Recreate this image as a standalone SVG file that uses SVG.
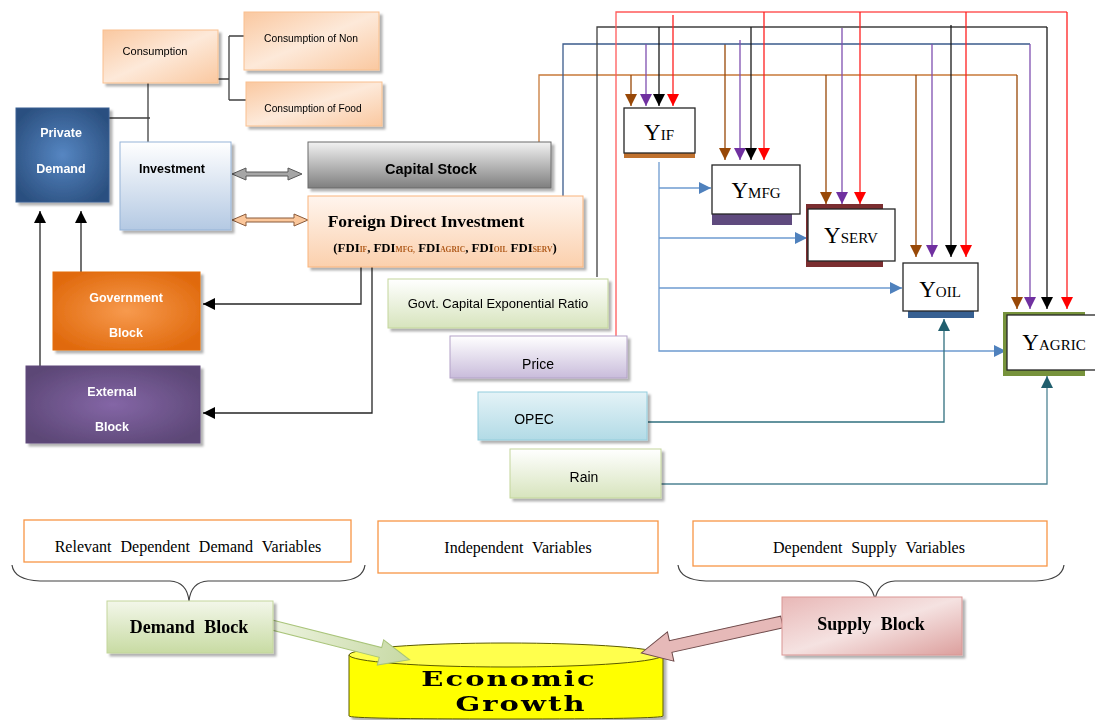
<svg xmlns="http://www.w3.org/2000/svg" width="1095" height="720" viewBox="0 0 1095 720">
<defs>
<style>
.sans{font-family:"Liberation Sans",Arial,sans-serif}
.serif{font-family:"Liberation Serif","Times New Roman",serif}
.wb{fill:#fff;font-weight:bold;font-size:12.5px}
.ln{fill:none;stroke-width:1.3}
.ybox{fill:#fff;stroke:#262626;stroke-width:1.3}
.ylab{font-family:"Liberation Serif","Times New Roman",serif;font-size:23px;fill:#000}
.lbl{font-family:"Liberation Serif","Times New Roman",serif;font-size:16px;fill:#000;text-anchor:middle;word-spacing:5px}
.obox{fill:#fff;stroke:#f79646;stroke-width:1.3}
.brace{fill:none;stroke:#404040;stroke-width:1.2}
.eg{font-family:"DejaVu Serif","Liberation Serif",serif;font-size:21px;font-weight:bold;fill:#000;text-anchor:middle;letter-spacing:1.5px}
</style>
<filter id="sh" x="-10%" y="-10%" width="125%" height="130%"><feDropShadow dx="3" dy="3" stdDeviation="1" flood-color="#000" flood-opacity="0.3"/></filter>
<linearGradient id="gPeach" x1="0" y1="0" x2="1" y2="1"><stop offset="0" stop-color="#fac8a0"/><stop offset="0.5" stop-color="#fde9d9"/><stop offset="1" stop-color="#fac8a0"/></linearGradient>
<radialGradient id="gPD" cx="0.5" cy="0.5" r="0.6"><stop offset="0" stop-color="#5686c2"/><stop offset="1" stop-color="#2b5080"/></radialGradient>
<linearGradient id="gInv" x1="0" y1="0" x2="0" y2="1"><stop offset="0" stop-color="#ffffff"/><stop offset="1" stop-color="#b4c9e3"/></linearGradient>
<linearGradient id="gCap" x1="0" y1="0" x2="0" y2="1"><stop offset="0" stop-color="#f2f2f2"/><stop offset="1" stop-color="#7f7f7f"/></linearGradient>
<linearGradient id="gFDI" x1="0" y1="0" x2="0" y2="1"><stop offset="0" stop-color="#fff5ee"/><stop offset="1" stop-color="#fbd0ad"/></linearGradient>
<radialGradient id="gGov" cx="0.5" cy="0.5" r="0.6"><stop offset="0" stop-color="#f79a4e"/><stop offset="1" stop-color="#e0690c"/></radialGradient>
<radialGradient id="gExt" cx="0.5" cy="0.5" r="0.6"><stop offset="0" stop-color="#8466a6"/><stop offset="1" stop-color="#5c4776"/></radialGradient>
<linearGradient id="gGreen" x1="0" y1="0" x2="0" y2="1"><stop offset="0" stop-color="#ffffff"/><stop offset="1" stop-color="#d7e4bd"/></linearGradient>
<linearGradient id="gPurp" x1="0" y1="0" x2="0" y2="1"><stop offset="0" stop-color="#ffffff"/><stop offset="1" stop-color="#c9bcdb"/></linearGradient>
<linearGradient id="gBlue" x1="0" y1="0" x2="0" y2="1"><stop offset="0" stop-color="#e4f3f7"/><stop offset="1" stop-color="#b2dbe6"/></linearGradient>
<linearGradient id="gDem" x1="0" y1="0" x2="0" y2="1"><stop offset="0" stop-color="#f3f7ea"/><stop offset="1" stop-color="#c8dba3"/></linearGradient>
<linearGradient id="gSup" x1="0" y1="0" x2="1" y2="1"><stop offset="0" stop-color="#e8b7b6"/><stop offset="0.5" stop-color="#f5e2e1"/><stop offset="1" stop-color="#dc9f9d"/></linearGradient>
<linearGradient id="gGA" x1="0" y1="0" x2="1" y2="0"><stop offset="0" stop-color="#eef4e1"/><stop offset="1" stop-color="#c7d9a4"/></linearGradient>
<marker id="aK" markerUnits="userSpaceOnUse" markerWidth="12" markerHeight="12" refX="12" refY="6" orient="auto"><path d="M0,0 L12,6 L0,12 z" fill="#000"/></marker>
<marker id="aR" markerUnits="userSpaceOnUse" markerWidth="12" markerHeight="12" refX="12" refY="6" orient="auto"><path d="M0,0 L12,6 L0,12 z" fill="#ff0000"/></marker>
<marker id="aP" markerUnits="userSpaceOnUse" markerWidth="12" markerHeight="12" refX="12" refY="6" orient="auto"><path d="M0,0 L12,6 L0,12 z" fill="#7030a0"/></marker>
<marker id="aB" markerUnits="userSpaceOnUse" markerWidth="12" markerHeight="12" refX="12" refY="6" orient="auto"><path d="M0,0 L12,6 L0,12 z" fill="#984807"/></marker>
<marker id="aL" markerUnits="userSpaceOnUse" markerWidth="12" markerHeight="12" refX="12" refY="6" orient="auto"><path d="M0,0 L12,6 L0,12 z" fill="#4f81bd"/></marker>
<marker id="aT" markerUnits="userSpaceOnUse" markerWidth="12" markerHeight="12" refX="12" refY="6" orient="auto"><path d="M0,0 L12,6 L0,12 z" fill="#215f6e"/></marker>
</defs>
<rect width="1095" height="720" fill="#fff"/>

<g id="economic-growth" filter="url(#sh)">
<path d="M349,655 V716 Q349,719 506,719 Q663,719 663,716 V655" fill="#ffff00" stroke="#5a5a00" stroke-width="1"/>
<ellipse cx="506" cy="655" rx="157" ry="12" fill="#ffff4d" stroke="#5a5a00" stroke-width="1"/>
<text class="eg" transform="translate(509,686) scale(1.38,1)">Economic</text>
<text class="eg" transform="translate(521,711) scale(1.38,1)">Growth</text>
</g>

<g id="connectors">
<path class="ln" stroke="#404040" d="M148,83 V142 M109,118 H150 M218,79 H229 M229,36 V100 M229,36 H244 M229,100 H246"/>
<path class="ln" stroke="#262626" d="M40,366 V211" marker-end="url(#aK)"/>
<path class="ln" stroke="#262626" d="M81,272 V211" marker-end="url(#aK)"/>
<path class="ln" stroke="#262626" d="M361,267 V304 H203" marker-end="url(#aK)"/>
<path class="ln" stroke="#262626" d="M372,267 V413 H203" marker-end="url(#aK)"/>
<polygon points="232,174 246,168 246,172 288,172 288,168 302,174 288,180 288,176 246,176 246,180" fill="#a6a6a6" stroke="#595959" stroke-width="1"/>
<polygon points="232,220 246,214 246,218 294,218 294,214 308,220 294,226 294,222 246,222 246,226" fill="#fbc79b" stroke="#8a5a3a" stroke-width="1"/>
<path class="ln" stroke="#c87a3a" d="M539,142 V75 H1017"/>
<g stroke="#984807" stroke-width="1.3" fill="none">
<path d="M631,75 V106" marker-end="url(#aB)"/>
<path d="M725,44 V160" marker-end="url(#aB)"/>
<path d="M826,75 V204" marker-end="url(#aB)"/>
<path d="M916,75 V257" marker-end="url(#aB)"/>
<path d="M1017,75 V309" marker-end="url(#aB)"/>
</g>
<path class="ln" stroke="#3b5b8c" d="M563,196 V44 H1030"/>
<g stroke="#7f4fb0" stroke-width="1.3" fill="none">
<path d="M646,44 V106" marker-end="url(#aP)"/>
<path d="M740,40 V160" marker-end="url(#aP)"/>
<path d="M842,28 V204" marker-end="url(#aP)"/>
<path d="M932,44 V257" marker-end="url(#aP)"/>
<path d="M1030,44 V309" marker-end="url(#aP)"/>
</g>
<path class="ln" stroke="#404040" d="M597,277 V27 H1047"/>
<g stroke="#1a1a1a" stroke-width="1.3" fill="none">
<path d="M659,27 V106" marker-end="url(#aK)"/>
<path d="M751,27 V160" marker-end="url(#aK)"/>
<path d="M951,25 V257" marker-end="url(#aK)"/>
<path d="M1047,27 V309" marker-end="url(#aK)"/>
</g>
<path class="ln" stroke="#ff5a5a" d="M616,336 V12 H1067"/>
<g stroke="#ff2020" stroke-width="1.3" fill="none">
<path d="M673,15 V106" marker-end="url(#aR)"/>
<path d="M764,12 V160" marker-end="url(#aR)"/>
<path d="M860,12 V204" marker-end="url(#aR)"/>
<path d="M966,12 V257" marker-end="url(#aR)"/>
<path d="M1067,12 V309" marker-end="url(#aR)"/>
</g>
<path class="ln" stroke="#6e9bd0" d="M659,162 V351 H1006" marker-end="url(#aL)"/>
<path class="ln" stroke="#6e9bd0" d="M659,188 H711" marker-end="url(#aL)"/>
<path class="ln" stroke="#6e9bd0" d="M659,238 H807" marker-end="url(#aL)"/>
<path class="ln" stroke="#6e9bd0" d="M659,288 H902" marker-end="url(#aL)"/>
<path class="ln" stroke="#31707f" d="M648,422 H944 V319" marker-end="url(#aT)"/>
<path class="ln" stroke="#4f8494" d="M661,484 H1047 V376" marker-end="url(#aT)"/>
<g transform="translate(268,624) rotate(14.2)">
<polygon points="0,-5 116,-5 116,-13 146,0 116,13 116,5 0,5" fill="url(#gGA)" stroke="#a9c47a" stroke-width="1"/>
</g>
<g transform="translate(782,622) rotate(167.6)">
<polygon points="0,-6 114,-6 114,-15 144,0 114,15 114,6 0,6" fill="#e6b9b8" stroke="#6e4a4a" stroke-width="1"/>
</g>
<path class="brace" d="M12,565 Q14,580 40,581 L170,581 Q187,582 189,601 Q191,582 208,581 L340,581 Q363,580 365,565"/>
<path class="brace" d="M678,565 Q680,580 706,581 L855,581 Q872,582 875,600 Q878,582 895,581 L1036,581 Q1062,580 1064,565"/>
</g>

<g id="consumption" filter="url(#sh)"><rect x="103" y="30" width="115" height="53" fill="url(#gPeach)" stroke="#f9c08f"/><text class="sans" x="155" y="55" font-size="11" text-anchor="middle">Consumption</text></g>
<g id="consumption-non" filter="url(#sh)"><rect x="244" y="12" width="135" height="58" fill="url(#gPeach)" stroke="#f9c08f"/><text class="sans" x="311" y="42" font-size="10.3" text-anchor="middle">Consumption of Non</text></g>
<g id="consumption-food" filter="url(#sh)"><rect x="246" y="82" width="136" height="44" fill="url(#gPeach)" stroke="#f9c08f"/><text class="sans" x="313" y="112" font-size="10.2" text-anchor="middle">Consumption of Food</text></g>
<g id="private-demand" filter="url(#sh)"><rect x="16" y="108" width="93" height="94" fill="url(#gPD)" stroke="#365f91"/><text class="sans wb" x="61" y="137" text-anchor="middle">Private</text><text class="sans wb" x="61" y="173" text-anchor="middle">Demand</text></g>
<g id="investment" filter="url(#sh)"><rect x="120" y="142" width="111" height="88" fill="url(#gInv)" stroke="#95b3d7"/><text class="sans" x="172" y="173" font-size="12.5" font-weight="bold" text-anchor="middle">Investment</text></g>
<g id="capital-stock" filter="url(#sh)"><rect x="308" y="142" width="243" height="46" fill="url(#gCap)" stroke="#6b6b6b"/><text class="sans" x="431" y="174" font-size="14.5" font-weight="bold" text-anchor="middle">Capital Stock</text></g>
<g id="fdi" filter="url(#sh)"><rect x="308" y="196" width="275" height="71" fill="url(#gFDI)" stroke="#f9b47c"/>
<text class="serif" x="426" y="227" font-size="17.5" font-weight="bold" text-anchor="middle">Foreign Direct Investment</text>
<text class="serif" x="445" y="252" font-size="12.8" font-weight="bold" text-anchor="middle">(FDI<tspan font-size="7.5" fill="#b05a1a">IF</tspan>, FDI<tspan font-size="7.5" fill="#b05a1a">MFG,</tspan> FDI<tspan font-size="7.5" fill="#b05a1a">AGRIC</tspan>, FDI<tspan font-size="7.5" fill="#b05a1a">OIL</tspan> FDI<tspan font-size="7.5" fill="#b05a1a">SERV</tspan>)</text></g>
<g id="government" filter="url(#sh)"><rect x="53" y="272" width="147" height="78" fill="url(#gGov)" stroke="#e36c09"/><text class="sans wb" x="126" y="302" text-anchor="middle">Government</text><text class="sans wb" x="126" y="337" text-anchor="middle">Block</text></g>
<g id="external" filter="url(#sh)"><rect x="26" y="366" width="174" height="77" fill="url(#gExt)" stroke="#5f497a"/><text class="sans wb" x="112" y="396" text-anchor="middle">External</text><text class="sans wb" x="112" y="431" text-anchor="middle">Block</text></g>
<g id="govt-capital-ratio" filter="url(#sh)"><rect x="388" y="279" width="220" height="49" fill="url(#gGreen)" stroke="#c3d69b"/><text class="sans" x="498" y="308" font-size="13" text-anchor="middle">Govt. Capital Exponential Ratio</text></g>
<g id="price" filter="url(#sh)"><rect x="450" y="336" width="177" height="42" fill="url(#gPurp)" stroke="#b3a2c7"/><text class="sans" x="538" y="369" font-size="14" text-anchor="middle">Price</text></g>
<g id="opec" filter="url(#sh)"><rect x="478" y="392" width="169" height="48" fill="url(#gBlue)" stroke="#93cddd"/><text class="sans" x="534" y="424" font-size="14" text-anchor="middle">OPEC</text></g>
<g id="rain" filter="url(#sh)"><rect x="510" y="449" width="151" height="49" fill="url(#gGreen)" stroke="#c3d69b"/><text class="sans" x="584" y="482" font-size="14" text-anchor="middle">Rain</text></g>

<g id="y-if"><rect x="624" y="153" width="71" height="5" fill="#c0712e"/><rect class="ybox" x="624" y="108" width="71" height="45"/><text class="ylab" x="659" y="140" text-anchor="middle">Y<tspan font-size="15">IF</tspan></text></g>
<g id="y-mfg"><rect x="712" y="214" width="80" height="11" fill="#5f4a7e"/><rect class="ybox" x="712" y="165" width="88" height="49"/><text class="ylab" x="756" y="198" text-anchor="middle">Y<tspan font-size="15">MFG</tspan></text></g>
<g id="y-serv"><rect x="806" y="204" width="77" height="63" fill="#7b2e30"/><rect class="ybox" x="808" y="209" width="87" height="52"/><text class="ylab" x="851" y="243" text-anchor="middle">Y<tspan font-size="15">SERV</tspan></text></g>
<g id="y-oil"><rect x="908" y="311" width="66" height="7" fill="#376092"/><rect class="ybox" x="903" y="263" width="75" height="48"/><text class="ylab" x="940" y="297" text-anchor="middle">Y<tspan font-size="15">OIL</tspan></text></g>
<g id="y-agric"><rect x="1003" y="312" width="82" height="64" fill="#77933c"/><rect class="ybox" x="1007" y="315" width="90" height="55"/><text class="ylab" x="1054" y="350" text-anchor="middle">Y<tspan font-size="15">AGRIC</tspan></text></g>

<g id="relevant-demand"><rect class="obox" x="24" y="520" width="327" height="42"/><text class="lbl" x="188" y="552">Relevant Dependent Demand Variables</text></g>
<g id="independent"><rect class="obox" x="378" y="521" width="280" height="52"/><text class="lbl" x="518" y="553">Independent Variables</text></g>
<g id="dependent-supply"><rect class="obox" x="693" y="521" width="354" height="45"/><text class="lbl" x="869" y="553">Dependent Supply Variables</text></g>
<g id="demand-block" filter="url(#sh)"><rect x="107" y="601" width="166" height="52" fill="url(#gDem)" stroke="#c3d69b"/><text class="serif" x="189" y="633" font-size="18" font-weight="bold" text-anchor="middle" word-spacing="5">Demand Block</text></g>
<g id="supply-block" filter="url(#sh)"><rect x="782" y="597" width="180" height="58" fill="url(#gSup)" stroke="#d99694"/><text class="serif" x="871" y="630" font-size="18" font-weight="bold" text-anchor="middle" word-spacing="5">Supply Block</text></g>
</svg>
